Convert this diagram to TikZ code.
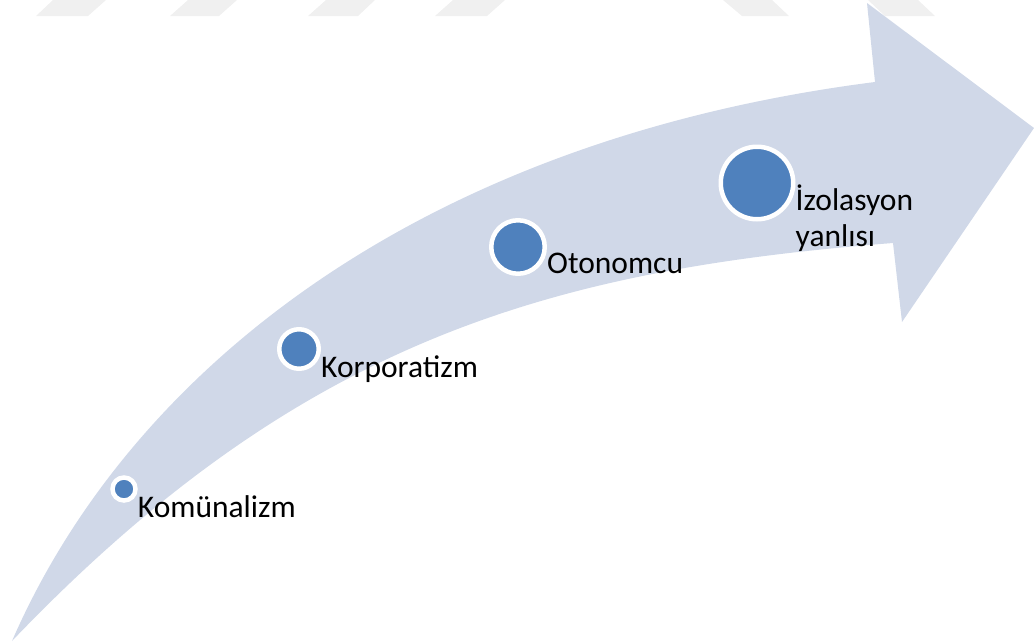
\documentclass[tikz,border=0pt]{standalone}
\usepackage{fontspec}
\setmainfont{Carlito}
\definecolor{arrowfill}{HTML}{D0D8E8}
\definecolor{dotblue}{HTML}{4F81BD}
\definecolor{wmgrey}{HTML}{F0F0F0}

\begin{document}
\begin{tikzpicture}[x=1pt,y=-1pt]
\tikzstyle {wm}=[fill=wmgrey]
\tikzstyle {dot}=[circle, fill=dotblue, draw=white, line width=4.5pt, inner sep=0pt]
\tikzstyle {txt}=[anchor=base west, inner sep=0pt, font=\fontsize{31.5}{36}\selectfont, align=left]
\useasboundingbox (0,0) rectangle (1034,643);
% faint marks along the top edge
\fill[wm] (53,0) -- (106,0) -- (88,16) -- (36,16) -- cycle;
\fill[wm] (188,0) -- (237,0) -- (219,16) -- (170,16) -- cycle;
\fill[wm] (326,0) -- (375,0) -- (358,16) -- (308,16) -- cycle;
\fill[wm] (453,0) -- (505,0) -- (487,16) -- (435,16) -- cycle;
\fill[wm] (723,0) -- (772,0) -- (789,16) -- (742,16) -- cycle;
\fill[wm] (868,0) -- (918,0) -- (935,16) -- (885,16) -- cycle;
% curved arrow
\fill[arrowfill] (12,641) .. controls (130,370) and (420,140) .. (875,82)
  -- (867,3) -- (1034,128) -- (902,322) -- (893,243)
  .. controls (550,270) and (300,340) .. (12,641) -- cycle;
% dots
\node (kom) [dot, minimum size=23pt] at (124,489) {};
\node (kor) [dot, minimum size=39.5pt] at (299,349) {};
\node (oto) [dot, minimum size=53.5pt] at (518,247) {};
\node (izo) [dot, minimum size=72.5pt] at (757,183) {};
% labels
\node (komtxt) [txt] at ([yshift=-28pt]kom.east) {Komünalizm};
\node (kortxt) [txt] at ([yshift=-28pt]kor.east) {Korporatizm};
\node (ototxt) [txt] at ([yshift=-26pt]oto.east) {Otonomcu};
\node (izotxt) [txt] at ([yshift=-63pt]izo.east) {İzolasyon\\yanlısı};
\end{tikzpicture}
\end{document}
